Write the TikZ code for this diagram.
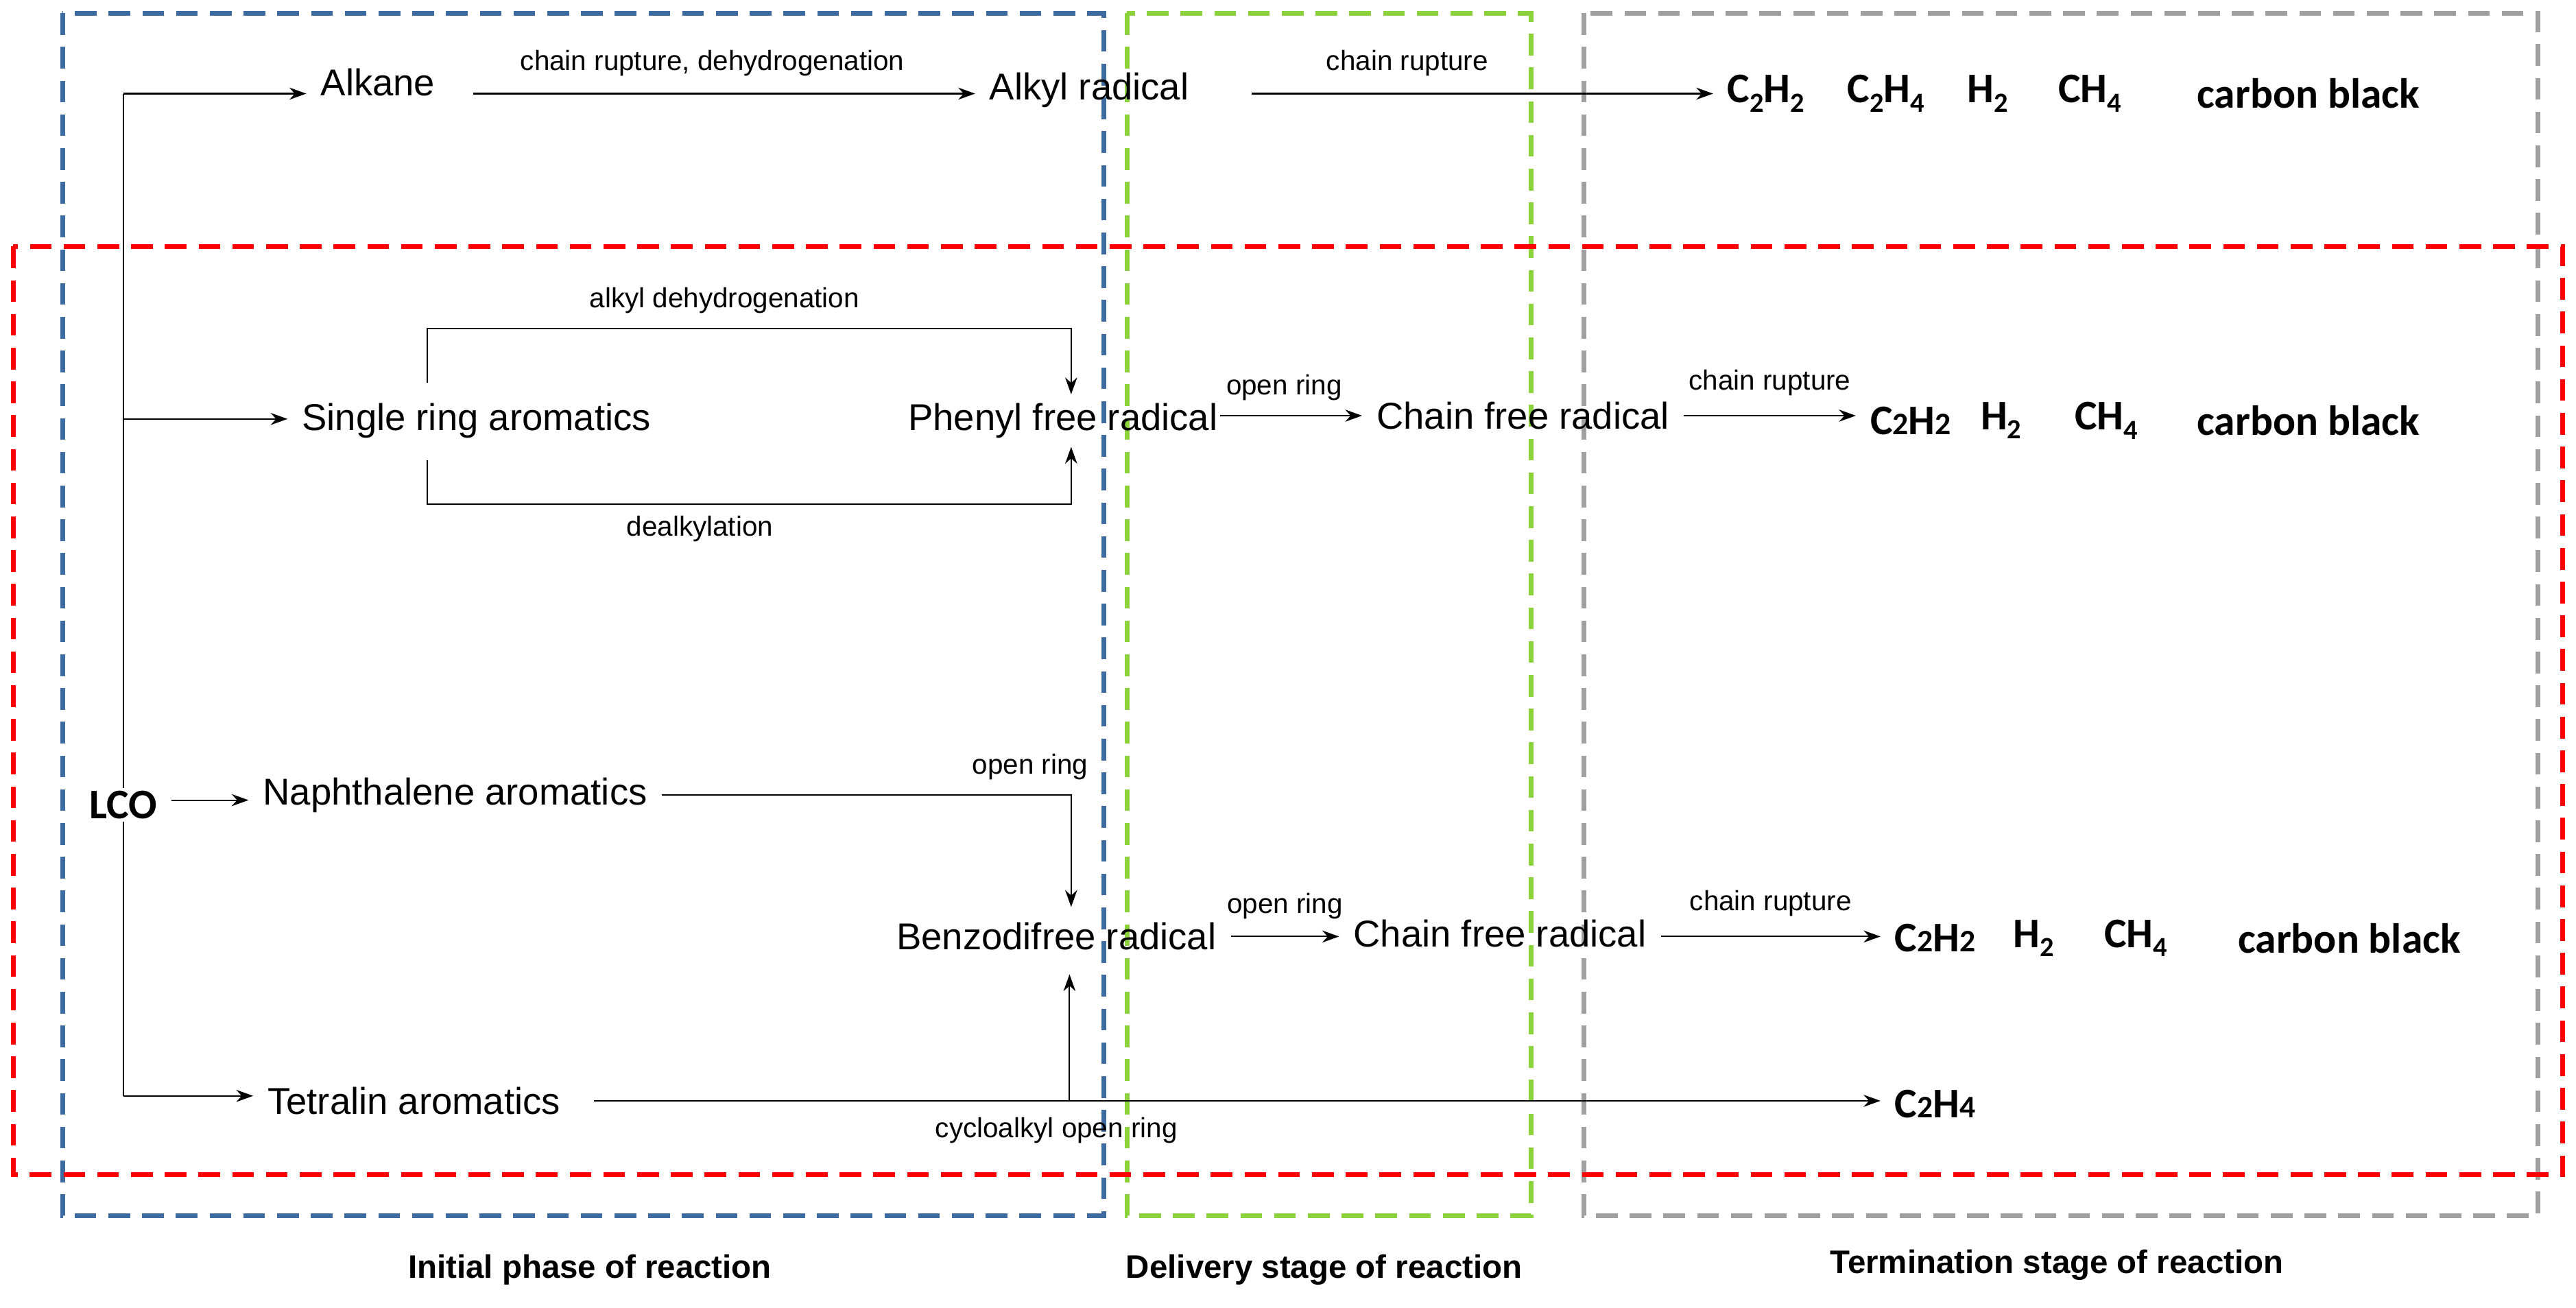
\documentclass[tikz,border=0pt]{standalone}
\usepackage{fontspec}
\setmainfont{Liberation Sans}
\newfontfamily\chem{Carlito}
\usetikzlibrary{arrows.meta}
\newcommand\lowsub[1]{\raisebox{-0.45ex}{\fontsize{11.5}{12}\selectfont #1}}
\newcommand\flatsub[1]{{\fontsize{13}{14}\selectfont #1}}
\begin{document}
\begin{tikzpicture}[x=0.02395cm,y=-0.02395cm,
 box/.style={line width=2pt,dash pattern=on 9pt off 5pt},
 arr/.style={line width=0.6pt,-{Stealth[length=7pt,width=5pt]}},
 ln/.style={line width=0.6pt},
 t/.style={font=\fontsize{15.5}{17}\selectfont,inner sep=1pt,outer xsep=5pt},
 s/.style={font=\fontsize{11.5}{13}\selectfont,inner sep=1pt},
 c/.style={font=\chem\bfseries\fontsize{17.5}{19}\selectfont,inner sep=1pt,outer xsep=5pt},
 b/.style={font=\bfseries\fontsize{13.5}{15}\selectfont,inner sep=1pt}]
\useasboundingbox (0,0) rectangle (1568,796);
\fill[white] (0,0) rectangle (1568,796);
\draw[box,color={rgb,255:red,62;green,108;blue,160}] (38,8) rectangle (672,740);
\draw[box,color={rgb,255:red,140;green,210;blue,60}] (686,8) rectangle (932,740);
\draw[box,color={rgb,255:red,160;green,160;blue,160}] (964,8) rectangle (1545,740);
\draw[box,color=red] (8,150) rectangle (1560,715);
% nodes
\node[c] (lco) at (75,490) {LCO};
\node[t] (alk) at (230,50) {Alkane};
\node[t] (alr) at (663,55) {Alkyl radical};
\node[c] (p1) at (1075,57) {C\lowsub{2}H\lowsub{2}};
\node[c] (p2) at (1148,57) {C\lowsub{2}H\lowsub{4}};
\node[c] (p3) at (1210,57) {H\lowsub{2}};
\node[c] (p4) at (1272,57) {CH\lowsub{4}};
\node[c] (p5) at (1405,57) {carbon black};
\node[t] (sra) at (290,256) {Single ring aromatics};
\node[t] (phr) at (647,256) {Phenyl free radical};
\node[t] (cfr1) at (927,253) {Chain free radical};
\node[c] (q1) at (1163,256) {C\flatsub{2}H\flatsub{2}};
\node[c] (q2) at (1218,256) {H\lowsub{2}};
\node[c] (q3) at (1282,256) {CH\lowsub{4}};
\node[c] (q4) at (1405,256) {carbon black};
\node[t] (nap) at (277,484) {Naphthalene aromatics};
\node[t] (bzr) at (643,570) {Benzodifree radical};
\node[t] (cfr2) at (913,568) {Chain free radical};
\node[c] (r1) at (1178,571) {C\flatsub{2}H\flatsub{2}};
\node[c] (r2) at (1238,571) {H\lowsub{2}};
\node[c] (r3) at (1300,571) {CH\lowsub{4}};
\node[c] (r4) at (1430,571) {carbon black};
\node[t] (tet) at (252,670) {Tetralin aromatics};
\node[c] (c24) at (1178,672) {C\flatsub{2}H\flatsub{4}};
% LCO trunk
\coordinate (top) at (75,57);
\coordinate (bot) at (75,667);
\draw[ln] (top) -- (lco.north);
\draw[ln] (lco.south) -- (bot);
\draw[arr] (top) -- (alk.west |- top);
\draw[arr] (75,255) -- (sra.west |- 0,255);
\draw[arr] (lco.east |- 0,487) -- (nap.west |- 0,487);
\draw[arr] (bot) -- (tet.west |- bot);
% row 1
\draw[arr,shorten <=10pt] (alk.east |- 0,57) -- node[s,above=6pt]{chain rupture, dehydrogenation} (alr.west |- 0,57);
\draw[arr,shorten <=20pt] (alr.east |- 0,57) -- node[s,above=6pt,pos=0.4]{chain rupture} (p1.west |- 0,57);
% row 2
\draw[arr] (260,233) |- (652,200) -- (652,240);
\node[s] (l1) at (441,183) {alkyl dehydrogenation};
\draw[arr] (260,280) |- (652,307) -- (652,272);
\node[s] (l2) at (426,322) {dealkylation};
\draw[arr,shorten <=-5pt] (phr.east |- 0,253) -- node[s,above=5pt,pos=0.4]{open ring} (cfr1.west |- 0,253);
\draw[arr] (cfr1.east |- 0,253) -- node[s,above=7pt]{chain rupture} (q1.west |- 0,253);
% row 3
\draw[arr] (nap.east) -| node[s,above=5pt,pos=0.45]{open ring} (652,552);
\draw[arr] (bzr.east |- 0,570) -- node[s,above=6pt]{open ring} (cfr2.west |- 0,570);
\draw[arr] (cfr2.east |- 0,570) -- node[s,above=7pt]{chain rupture} (r1.west |- 0,570);
% row 4
\draw[arr,shorten <=8pt] (tet.east) -- (c24.west |- tet.east);
\draw[arr] (651,670) -- (651,593);
\node[s] (l3) at (643,688) {cycloalkyl open ring};
% stage labels
\node[b] (s1) at (359,773) {Initial phase of reaction};
\node[b] (s2) at (806,773) {Delivery stage of reaction};
\node[b] (s3) at (1252,770) {Termination stage of reaction};
\end{tikzpicture}
\end{document}
